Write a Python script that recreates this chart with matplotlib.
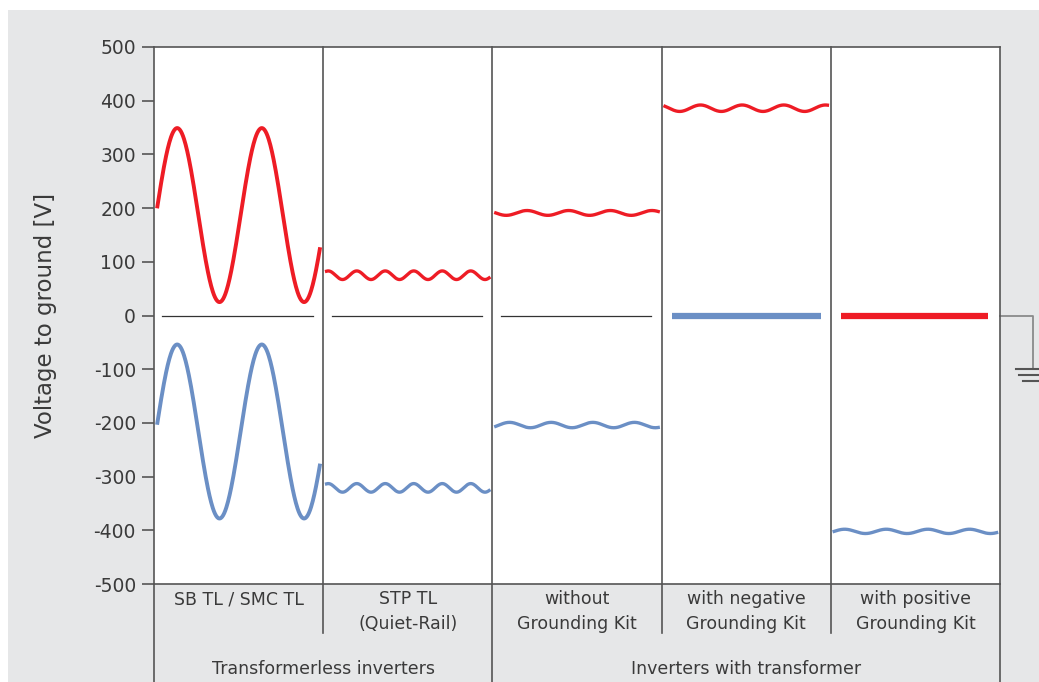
import numpy as np
import matplotlib
matplotlib.use('Agg')
import matplotlib.pyplot as plt
from matplotlib.patches import Rectangle

# panel labels
categories = ['SB TL / SMC TL', 'STP TL\n(Quiet-Rail)', 'without\nGrounding Kit',
              'with negative\nGrounding Kit', 'with positive\nGrounding Kit']
groups = ['Transformerless inverters', 'Inverters with transformer']
group_span = [(0, 2), (2, 5)]

# positive pole (red) and negative pole (blue), in V
red_offset = [187, 75, 191, 386, 0]
red_amp = [162, 8, 4.5, 6, 0]
red_cycles = [1.92, 5.7, 3.9, 3.9, 0]
red_phase = [0.1, 1.2, 3.14, 2.5, 0]

blue_offset = [-216, -321, -204, 0, -402]
blue_amp = [162, 8, 5, 0, 4]
blue_cycles = [1.92, 5.7, 3.9, 0, 3.9]
blue_phase = [0.1, 1.2, -0.5, 0, 0.0]

yticks = [500, 400, 300, 200, 100, 0, -100, -200, -300, -400, -500]

RED = '#ee1c25'
BLUE = '#6b8fc5'
TXT = '#3a3a3a'
LINE = '#555555'

plt.rcParams['font.family'] = ['DejaVu Sans']

fig = plt.figure(figsize=(10.39, 6.82), dpi=100)
fig.patches.append(Rectangle((8/1039, 0), 1, 1 - 10/682, transform=fig.transFigure,
                             facecolor='#e6e7e8', edgecolor='none', zorder=-10))

ax = fig.add_axes([154/1039, 1 - 584/682, 846/1039, 537/682])
ax.set_facecolor('white')
ax.set_xlim(0, 5)
ax.set_ylim(-500, 500)

for s in ax.spines.values():
    s.set_color(LINE)
    s.set_linewidth(1.2)

ax.set_xticks([])
ax.set_yticks(yticks)
ax.set_yticklabels([str(v) for v in yticks], fontsize=13.5, color=TXT)
ax.tick_params(axis='y', direction='out', length=9, width=1.2, color=LINE, pad=4)
ax.set_ylabel('Voltage to ground [V]', fontsize=16.5, color=TXT, labelpad=26)


def wave(i, off, amp, cyc, ph, x0, x1):
    t = np.linspace(0, 1, 300)
    x = i + x0 + (x1 - x0) * t
    y = off + amp * np.sin(ph + 2 * np.pi * cyc * t)
    return x, y


for i in range(5):
    # red
    if red_amp[i] == 0:
        ax.plot([i + 0.06, i + 0.93], [red_offset[i]] * 2, c=RED, lw=4.5, solid_capstyle='butt')
    else:
        x, y = wave(i, red_offset[i], red_amp[i], red_cycles[i], red_phase[i], 0.02, 0.98)
        ax.plot(x, y, c=RED, lw=2.8 if i == 0 else 2.4)
    # blue
    if blue_amp[i] == 0:
        ax.plot([i + 0.06, i + 0.94], [blue_offset[i]] * 2, c=BLUE, lw=4.5, solid_capstyle='butt')
    else:
        x, y = wave(i, blue_offset[i], blue_amp[i], blue_cycles[i], blue_phase[i], 0.02, 0.98)
        ax.plot(x, y, c=BLUE, lw=2.8 if i == 0 else 2.4)

# zero reference lines in the first three panels
for i in range(3):
    ax.plot([i + 0.05, i + 0.94], [0, 0], c='#333333', lw=0.9)

# panel dividers and label grid below the axes
for i in range(1, 5):
    bottom = -700 if i == 2 else -591
    ax.plot([i, i], [500, bottom], c=LINE, lw=1.2, clip_on=False)
for i in (0, 5):
    ax.plot([i, i], [-500, -700], c=LINE, lw=1.2, clip_on=False)

for i, lab in enumerate(categories):
    ax.text(i + 0.5, -512, lab, ha='center', va='top', fontsize=12.5, color=TXT,
            linespacing=1.45)

for lab, (a, b) in zip(groups, group_span):
    ax.text((a + b) / 2, -659, lab, ha='center', va='center', fontsize=12.5, color=TXT)

# ground symbol on the right
gx = 5 + 32.7 / 169.2
ax.plot([5, gx, gx], [0, 0, -97], c='#8a8a8a', lw=1.3, clip_on=False)
for k, (dy, hw) in enumerate([(-100, 17), (-111, 14), (-122, 10)]):
    ax.plot([gx - hw / 169.2, gx + hw / 169.2], [dy, dy], c='#555555', lw=1.5,
            clip_on=False)

fig.savefig('out.png', dpi=100)
